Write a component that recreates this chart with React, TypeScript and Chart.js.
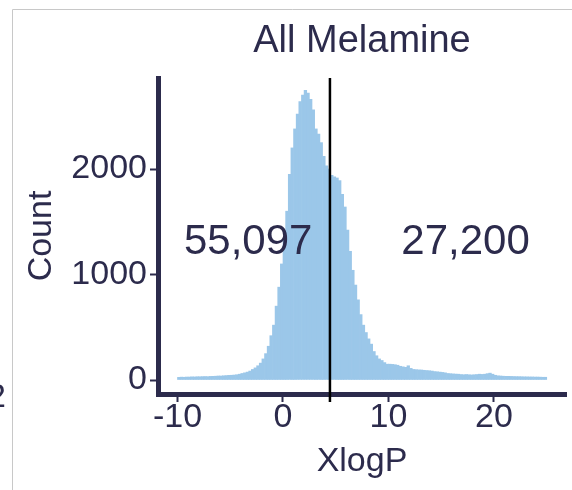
import React, { useEffect, useRef } from "react";
import { Chart, registerables } from "chart.js";

Chart.register(...registerables);

// Histogram of XlogP (bins of 0.25 starting at -10)
const binStart = -10;
const binWidth = 0.25;
const counts = [
  25, 27, 26, 28,
  28, 30, 29, 31,
  31, 32, 33, 32,
  34, 35, 36, 38,
  38, 40, 42, 44,
  45, 47, 50, 55,
  62, 68, 75, 85,
  100, 115, 135, 160,
  200, 250, 320, 420,
  520, 700, 880, 1100,
  1330, 1600, 1950, 2200,
  2380, 2520, 2640, 2700,
  2745, 2720, 2660, 2560,
  2380, 2330, 2250, 2120,
  2030, 2000, 1940, 1925,
  1915, 1890, 1760, 1640,
  1420, 1220, 1040, 900,
  760, 620, 520, 450,
  390, 340, 270, 230,
  200, 185, 165, 150,
  150, 148, 145, 140,
  130, 125, 120, 135,
  110, 100, 98, 96,
  95, 92, 90, 88,
  85, 80, 78, 75,
  72, 68, 62, 60,
  58, 56, 55, 52,
  50, 52, 50, 48,
  50, 52, 55, 53,
  55, 60, 65, 55,
  45, 40, 38, 36,
  35, 35, 34, 33,
  32, 32, 31, 30,
  30, 29, 29, 28,
  28, 27, 26, 26,
];

const xTicks = [-10, 0, 10, 20];
const yTicks = [0, 1000, 2000];
const cutoff = 4.45;
const annotationTexts = ["55,097", "27,200"];
const annotationX = [-3.3, 17.3];
const annotationY = 1300;

const titleText = "All Melamine";
const xTitle = "XlogP";
const yTitle = "Count";
const edgeFragment = "2";

const FONT = '"Liberation Sans", Arial, sans-serif';
const DARK = "#2c2b4c";
const BAR = "#9bc7e9";

const overlayPlugin = {
  id: "overlay",
  beforeDraw(chart: any) {
    const { ctx, width, height } = chart;
    ctx.save();
    ctx.strokeStyle = "#c8c8c8";
    ctx.lineWidth = 1;
    ctx.beginPath();
    ctx.moveTo(12.5, height);
    ctx.lineTo(12.5, 9.5);
    ctx.lineTo(width, 9.5);
    ctx.stroke();
    // fragment of a neighbouring panel's label, cut by the crop
    ctx.fillStyle = DARK;
    ctx.font = `34px ${FONT}`;
    ctx.textAlign = "right";
    ctx.textBaseline = "middle";
    ctx.fillText(edgeFragment, 6, 398);
    ctx.restore();
  },
  afterDatasetsDraw(chart: any) {
    const { ctx, chartArea, scales } = chart;
    const xs = scales.x;
    const ys = scales.y;
    const px = xs.getPixelForValue(cutoff);
    ctx.save();
    ctx.strokeStyle = "#000000";
    ctx.lineWidth = 2.5;
    ctx.beginPath();
    ctx.moveTo(px, chartArea.top);
    ctx.lineTo(px, chartArea.bottom + 8);
    ctx.stroke();
    ctx.fillStyle = DARK;
    ctx.font = `42px ${FONT}`;
    ctx.textAlign = "center";
    ctx.textBaseline = "middle";
    annotationTexts.forEach((t, i) => {
      ctx.fillText(t, xs.getPixelForValue(annotationX[i]), ys.getPixelForValue(annotationY));
    });
    ctx.restore();
  },
};

export default function App() {
  const ref = useRef<HTMLCanvasElement | null>(null);

  useEffect(() => {
    if (!ref.current) return;
    const data = counts.map((c, i) => ({ x: binStart + binWidth * (i + 0.5), y: c }));
    const chart = new Chart(ref.current, {
      type: "bar",
      data: {
        datasets: [
          {
            data,
            backgroundColor: BAR,
            borderWidth: 0,
            barPercentage: 1,
            categoryPercentage: 1,
          },
        ],
      },
      options: {
        responsive: false,
        animation: false,
        devicePixelRatio: 1,
        layout: { padding: { left: 0, right: 6, top: 0, bottom: 0 } },
        plugins: {
          legend: { display: false },
          tooltip: { enabled: false },
          title: {
            display: true,
            fullSize: false,
            text: titleText,
            color: DARK,
            font: { family: FONT, size: 38, weight: "normal", lineHeight: 1.2 },
            padding: { top: 19.2, bottom: 13.2 },
            align: "center",
          },
        },
        scales: {
          x: {
            type: "linear",
            offset: false,
            min: -11.848,
            max: 26.825,
            afterBuildTicks: (s: any) => {
              s.ticks = xTicks.map((v) => ({ value: v }));
            },
            afterFit: (s: any) => {
              s.height = 96;
            },
            grid: {
              display: true,
              offset: false,
              drawOnChartArea: false,
              drawTicks: true,
              tickLength: 8,
              tickWidth: 2,
              tickColor: DARK,
            },
            border: { display: true, width: 5, color: DARK },
            ticks: {
              color: DARK,
              font: { family: FONT, size: 34, lineHeight: 1 },
              padding: -1,
              maxRotation: 0,
              autoSkip: false,
              callback: (v: any) => String(v),
            },
            title: {
              display: true,
              text: xTitle,
              color: DARK,
              font: { family: FONT, size: 34, lineHeight: 1.2 },
              padding: { top: 0, bottom: 7.6 },
            },
          },
          y: {
            type: "linear",
            min: -132.7,
            max: 2862.6,
            afterBuildTicks: (s: any) => {
              s.ticks = yTicks.map((v) => ({ value: v }));
            },
            afterFit: (s: any) => {
              s.width = 158;
            },
            grid: {
              display: true,
              drawOnChartArea: false,
              drawTicks: true,
              tickLength: 8,
              tickWidth: 2,
              tickColor: DARK,
            },
            border: { display: true, width: 5, color: DARK },
            ticks: {
              color: DARK,
              font: { family: FONT, size: 34, lineHeight: 1 },
              padding: 3,
              autoSkip: false,
              callback: (v: any) => String(v),
            },
            title: {
              display: true,
              text: yTitle,
              color: DARK,
              font: { family: FONT, size: 34, lineHeight: 1.2 },
              padding: { top: 21.6, bottom: 0 },
            },
          },
        },
      },
      plugins: [overlayPlugin],
    });
    return () => chart.destroy();
  }, []);

  return (
    <div style={{ position: "absolute", left: 0, top: 0, width: 572, height: 490 }}>
      <canvas ref={ref} width={572} height={490} style={{ width: 572, height: 490, display: "block" }} />
    </div>
  );
}
